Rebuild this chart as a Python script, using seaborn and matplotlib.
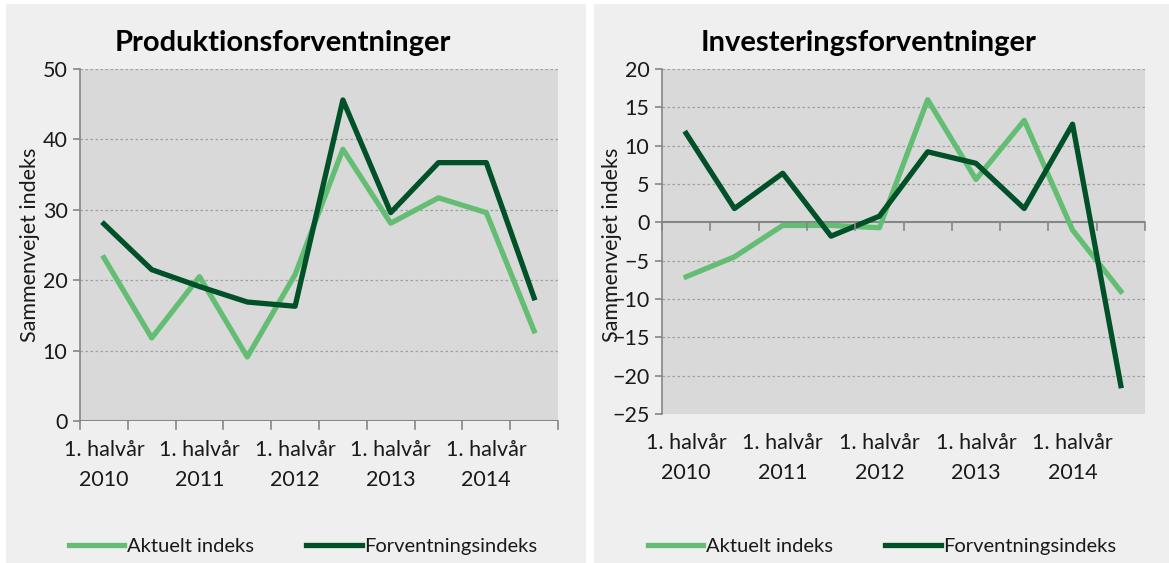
import pandas as pd
import matplotlib.pyplot as plt
import seaborn as sns
from matplotlib.patches import Rectangle
from matplotlib.transforms import blended_transform_factory

# data, 10 halvår 2010-2014
perioder = ['1. halvår\n2010', '2. halvår\n2010', '1. halvår\n2011', '2. halvår\n2011',
            '1. halvår\n2012', '2. halvår\n2012', '1. halvår\n2013', '2. halvår\n2013',
            '1. halvår\n2014', '2. halvår\n2014']
serier = ['Aktuelt indeks', 'Forventningsindeks']
prod_aktuelt = [23.2, 11.8, 20.5, 9.1, 20.8, 38.6, 28.1, 31.7, 29.6, 12.8]
prod_forv = [28.0, 21.5, 19.1, 16.9, 16.3, 45.6, 29.6, 36.7, 36.7, 17.5]
inv_aktuelt = [-7.1, -4.5, -0.4, -0.4, -0.7, 16.0, 5.6, 13.3, -1.0, -9.0]
inv_forv = [11.6, 1.8, 6.4, -1.8, 0.8, 9.2, 7.7, 1.8, 12.8, -21.3]
prod_yticks = [0, 10, 20, 30, 40, 50]
inv_yticks = [-25, -20, -15, -10, -5, 0, 5, 10, 15, 20]

farver = {'Aktuelt indeks': '#63be74', 'Forventningsindeks': '#005028'}

plt.rcParams['font.family'] = ['Lato', 'DejaVu Sans']
plt.rcParams['font.size'] = 15.5
plt.rcParams['text.color'] = '#1a1a1a'
plt.rcParams['xtick.color'] = '#868686'
plt.rcParams['ytick.color'] = '#868686'
plt.rcParams['xtick.labelcolor'] = '#1a1a1a'
plt.rcParams['ytick.labelcolor'] = '#1a1a1a'

fig = plt.figure(figsize=(11.69, 5.63), dpi=100)
fig.patch.set_facecolor('white')
# grå paneler bag de to diagrammer
fig.add_artist(Rectangle((6 / 1169, 0), 580 / 1169, 559 / 563, transform=fig.transFigure,
                         facecolor='#efefef', edgecolor='none', zorder=0))
fig.add_artist(Rectangle((594 / 1169, 0), 575 / 1169, 559 / 563, transform=fig.transFigure,
                         facecolor='#efefef', edgecolor='none', zorder=0))


def tegn(ax, aktuelt, forv, yticks, titel, titel_x, ylab_x, leg_x):
    df = pd.DataFrame({
        'pos': list(range(len(perioder))) * 2,
        'vaerdi': aktuelt + forv,
        'serie': [serier[0]] * len(aktuelt) + [serier[1]] * len(forv),
    })
    sns.lineplot(data=df, x='pos', y='vaerdi', hue='serie', palette=farver,
                 linewidth=3.8, ax=ax, errorbar=None)
    ax.set_facecolor('#d9d9d9')
    ax.set_xlim(-0.5, len(perioder) - 0.5)
    ax.set_ylim(yticks[0], yticks[-1])
    ax.set_yticks(yticks)
    for y in yticks[1:]:
        if y != 0:
            ax.axhline(y, color='#a0a0a0', lw=0.9, ls=(0, (2, 2)), zorder=0.5)
    for s in ['top', 'right', 'bottom']:
        ax.spines[s].set_visible(False)
    ax.spines['left'].set_color('#868686')
    ax.spines['left'].set_linewidth(1.2)
    ax.tick_params(axis='y', length=5, width=1.2, pad=4)
    # x-akse ved 0 med streger mellem kategorierne
    ax.axhline(0, color='#868686', lw=1.5, zorder=1)
    ax.set_xticks([i - 0.5 for i in range(len(perioder) + 1)])
    ax.set_xticklabels([])
    ax.tick_params(axis='x', length=0)
    trans = blended_transform_factory(ax.transData, ax.transData)
    for i in range(len(perioder) + 1):
        ax.plot([i - 0.5, i - 0.5], [0, 0 - (yticks[-1] - yticks[0]) * 0.022],
                color='#868686', lw=1.2, clip_on=False, transform=trans)
    lab_trans = blended_transform_factory(ax.transData, ax.transAxes)
    for i in range(0, len(perioder), 2):
        ax.text(i, -0.055, perioder[i], transform=lab_trans, ha='center', va='top',
                linespacing=1.6)
    ax.set_xlabel('')
    ax.set_ylabel('')
    fig.text(titel_x, 1 - 43 / 563, titel, ha='center', va='center',
             fontsize=21, fontweight='bold', color='black')
    fig.text(ylab_x, 1 - 245 / 563, 'Sammenvejet indeks', rotation=90,
             ha='center', va='center')
    handles, labels = ax.get_legend_handles_labels()
    ax.legend(handles, labels, loc='center', bbox_to_anchor=(leg_x, 1 - 546 / 563),
              bbox_transform=fig.transFigure, ncol=2, frameon=False, fontsize=14.5,
              handlelength=2.75, handletextpad=0.12, columnspacing=2.6)


ax1 = fig.add_axes([80 / 1169, 1 - 421 / 563, 478 / 1169, 352 / 563])
tegn(ax1, prod_aktuelt, prod_forv, prod_yticks, 'Produktionsforventninger',
     283 / 1169, 30 / 1169, 303 / 1169)

ax2 = fig.add_axes([662 / 1169, 1 - 414 / 563, 483 / 1169, 345 / 563])
tegn(ax2, inv_aktuelt, inv_forv, inv_yticks, 'Investeringsforventninger',
     869 / 1169, 612 / 1169, 882 / 1169)

plt.savefig('out.png', dpi=100)
